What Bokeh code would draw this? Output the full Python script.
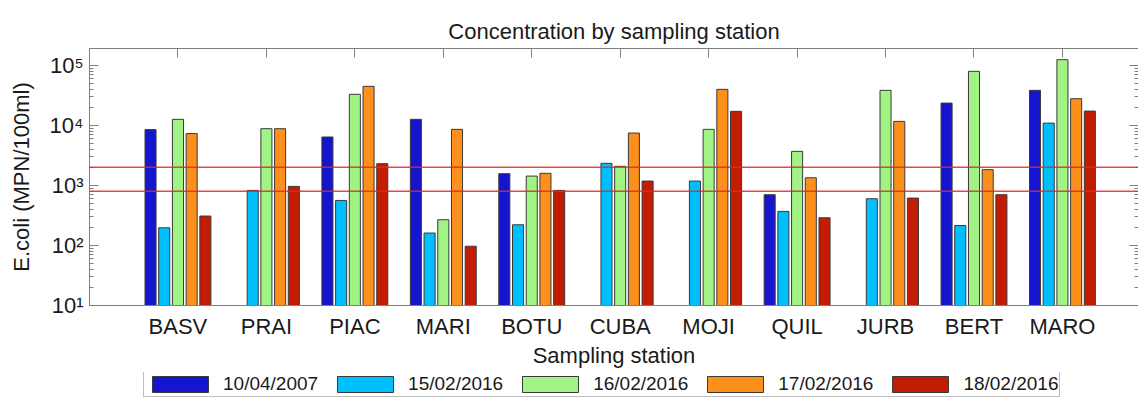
from bokeh.plotting import figure
from bokeh.layouts import column
from bokeh.models import (ColumnDataSource, LinearAxis, FixedTicker, LogAxis,
                          Legend, LegendItem, Span, Range1d)
from bokeh.embed import file_html
from bokeh.resources import INLINE

# ---------------- data ----------------
stations = ["BASV", "PRAI", "PIAC", "MARI", "BOTU", "CUBA", "MOJI", "QUIL", "JURB", "BERT", "MARO"]
dates = ["10/04/2007", "15/02/2016", "16/02/2016", "17/02/2016", "18/02/2016"]
d_10_04_2007 = [8500, None, 6400, 12600, 1570, None, None, 700, None, 23500, 38300]
d_15_02_2016 = [197, 826, 562, 161, 221, 2330, 1180, 369, 600, 215, 10900]
d_16_02_2016 = [12600, 8800, 32900, 268, 1430, 2080, 8580, 3690, 38300, 79400, 124000]
d_17_02_2016 = [7300, 8800, 44700, 8580, 1590, 7450, 39800, 1340, 11650, 1830, 27800]
d_18_02_2016 = [309, 962, 2300, 97, 826, 1180, 17100, 289, 615, 700, 17300]
limits = [2000, 800]
y_ticks = [10, 100, 1000, 10000, 100000]
y_tick_labels = ["10¹", "10²", "10³", "10⁴", "10⁵"]
series = [d_10_04_2007, d_15_02_2016, d_16_02_2016, d_17_02_2016, d_18_02_2016]
colors = ["#1515d0", "#00bfff", "#a2f385", "#fd8f1d", "#c41c00"]

FONT = "Liberation Sans"
GRAY = "#7f7f7f"
TXT = "#1a1a1a"
EDGE = "#3a3a3a"

p = figure(width=1138, height=372, output_backend="svg", toolbar_location=None,
           y_axis_type="log", x_range=Range1d(0, 11.86), y_range=Range1d(10, 10 ** 5.28),
           min_border_left=89, min_border_right=0, min_border_top=48, min_border_bottom=67,
           title="Concentration by sampling station")
p.title.align = "center"
p.title.text_font = FONT
p.title.text_font_size = "22px"
p.title.text_font_style = "normal"
p.title.text_color = TXT
p.outline_line_color = None
p.xgrid.visible = False
p.ygrid.visible = False

# legend strip (below the main plot); its bars lie outside its visible range,
# horizontally hidden behind the legend box
lg = figure(width=1138, height=25, output_backend="svg", toolbar_location=None,
            x_range=Range1d(-0.18, 12.82), y_axis_type="log", y_range=Range1d(1e-4, 1e-3),
            x_axis_location=None, y_axis_location=None,
            min_border_left=89, min_border_right=0, min_border_top=0, min_border_bottom=0)
lg.outline_line_color = None
lg.xgrid.visible = False
lg.ygrid.visible = False

offsets = [-0.31, -0.155, 0.0, 0.155, 0.31]
items = []
for j, (vals, col, lab) in enumerate(zip(series, colors, dates)):
    xs = [i + 1 + offsets[j] for i, v in enumerate(vals) if v is not None]
    tops = [v for v in vals if v is not None]
    src = ColumnDataSource(dict(x=xs, top=tops))
    p.vbar(x="x", top="top", bottom=1, width=0.125, source=src,
           fill_color=col, line_color=EDGE, line_width=1)
    r = lg.vbar(x="x", top="top", bottom=1, width=0.125, source=src,
                fill_color=col, line_color=EDGE, line_width=1)
    items.append(LegendItem(label=lab, renderers=[r]))

for lim in limits:
    p.add_layout(Span(location=lim, dimension="width", line_color="#e02828",
                      line_width=1.5, line_alpha=0.85))

# bottom axis
xa = p.xaxis[0]
xa.ticker = FixedTicker(ticks=list(range(1, len(stations) + 1)))
xa.major_label_overrides = {i + 1: s for i, s in enumerate(stations)}
xa.major_tick_in = 0
xa.major_tick_out = 0
xa.minor_tick_line_color = None
xa.axis_line_color = GRAY
xa.major_label_text_font = FONT
xa.major_label_text_font_size = "22px"
xa.major_label_text_color = TXT
xa.major_label_standoff = 8
xa.axis_label = "Sampling station"
xa.axis_label_text_font = FONT
xa.axis_label_text_font_size = "22px"
xa.axis_label_text_font_style = "normal"
xa.axis_label_text_color = TXT
xa.axis_label_standoff = 1

# left axis
minors = [m * 10 ** e for e in range(1, 6) for m in range(2, 10)]
ya = p.yaxis[0]
ya.ticker = FixedTicker(ticks=y_ticks, minor_ticks=minors)
ya.major_label_overrides = dict(zip(y_ticks, y_tick_labels))
ya.major_tick_in = 9
ya.major_tick_out = 0
ya.minor_tick_in = 4
ya.minor_tick_out = 0
ya.major_tick_line_color = GRAY
ya.minor_tick_line_color = GRAY
ya.axis_line_color = GRAY
ya.major_label_text_font = FONT
ya.major_label_text_font_size = "22px"
ya.major_label_text_color = TXT
ya.major_label_standoff = 6
ya.axis_label = "E.coli (MPN/100ml)"
ya.axis_label_text_font = FONT
ya.axis_label_text_font_size = "22px"
ya.axis_label_text_font_style = "normal"
ya.axis_label_text_color = TXT
ya.axis_label_standoff = 13

# top axis (ticks only)
ta = LinearAxis(ticker=FixedTicker(ticks=list(range(1, len(stations) + 1))),
                major_tick_in=9, major_tick_out=0, minor_tick_line_color=None,
                major_tick_line_color=GRAY, axis_line_color=GRAY,
                major_label_overrides={i + 1: "." for i in range(len(stations))},
                major_label_text_font_size="1px", major_label_text_color=None,
                major_label_standoff=0)
p.add_layout(ta, "above")

# right axis (ticks only)
ra = LogAxis(ticker=FixedTicker(ticks=y_ticks, minor_ticks=minors),
             major_tick_in=9, major_tick_out=0, minor_tick_in=4, minor_tick_out=0,
             major_tick_line_color=GRAY, minor_tick_line_color=GRAY, axis_line_color=None,
             major_label_overrides={t: "." for t in y_ticks},
             major_label_text_font_size="1px", major_label_text_color=None,
             major_label_standoff=0)
p.add_layout(ra, "right")

legend = Legend(items=items, orientation="horizontal", location=(54, 0),
                glyph_width=70, glyph_height=20, label_standoff=8, spacing=12,
                padding=1, label_text_font=FONT, label_text_font_size="19px",
                label_text_color=TXT, border_line_color=GRAY,
                background_fill_alpha=1.0, margin=0)
lg.add_layout(legend, "center")

layout = column(p, lg, spacing=0)
open("out.html", "w").write(file_html(layout, INLINE))
